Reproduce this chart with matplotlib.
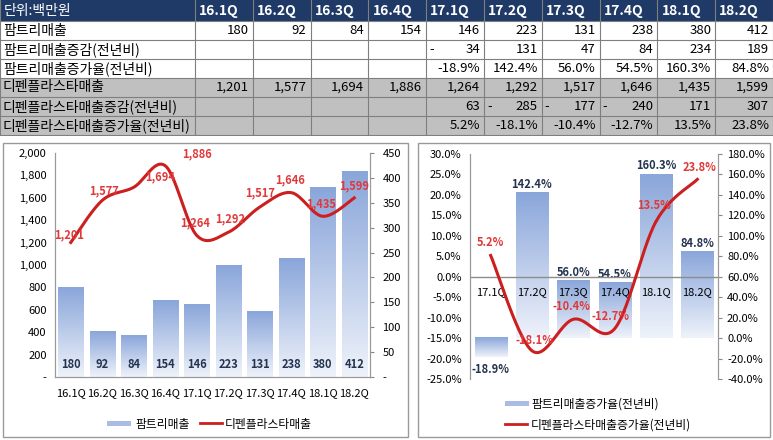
import numpy as np
import matplotlib
matplotlib.use("Agg")
import matplotlib.pyplot as plt
from matplotlib.patches import Rectangle
from matplotlib.lines import Line2D
from matplotlib.colors import LinearSegmentedColormap

plt.rcParams['font.family'] = ['Noto Sans CJK KR', 'DejaVu Sans']

quarters = ['16.1Q', '16.2Q', '16.3Q', '16.4Q', '17.1Q', '17.2Q', '17.3Q', '17.4Q', '18.1Q', '18.2Q']
palm_sales = [180, 92, 84, 154, 146, 223, 131, 238, 380, 412]
palm_diff = [None, None, None, None, -34, 131, 47, 84, 234, 189]
palm_rate = [None, None, None, None, -18.9, 142.4, 56.0, 54.5, 160.3, 84.8]
dp_sales = [1201, 1577, 1694, 1886, 1264, 1292, 1517, 1646, 1435, 1599]
dp_diff = [None, None, None, None, 63, -285, -177, -240, 171, 307]
dp_rate = [None, None, None, None, 5.2, -18.1, -10.4, -12.7, 13.5, 23.8]
row_labels = ['팜트리매출', '팜트리매출증감(전년비)', '팜트리매출증가율(전년비)',
              '디펜플라스타매출', '디펜플라스타매출증감(전년비)', '디펜플라스타매출증가율(전년비)']

W, H = 773, 440
fig = plt.figure(figsize=(W/100, H/100), dpi=100)

def fax(x0, y0, x1, y1):
    return fig.add_axes([x0/W, 1-y1/H, (x1-x0)/W, (y1-y0)/H])

# ---------- table ----------
tab = fax(0, 0, 773, 136)
tab.set_xlim(0, 773); tab.set_ylim(136, 0); tab.axis('off')
col0 = 195
cw = (773-col0)/10
rh = [21] + [19]*6
ys = np.cumsum([0]+rh)
navy = '#1f3a66'
for r in range(7):
    y0, y1 = ys[r], ys[r+1]
    bg = navy if r == 0 else ('white' if r <= 3 else '#c0c0c0')
    tab.add_patch(Rectangle((0, y0), 773, y1-y0, fc=bg, ec='none'))
    tab.plot([0, 773], [y1, y1], color='#7f7f7f', lw=0.8)
for c in range(11):
    x = 0 if c == 0 else col0 + (c-1)*cw
    tab.plot([x, x], [0, ys[-1]], color='#7f7f7f', lw=0.8)
tab.plot([772.5, 772.5], [0, ys[-1]], color='#7f7f7f', lw=0.8)
tab.text(4, ys[0]+10.5, '단위:백만원', color='white', fontsize=10, va='center')
for i, q in enumerate(quarters):
    tab.text(col0+i*cw+4, 10.5, q, color='white', fontsize=10, fontweight='bold', va='center')

def fmt_int(v):
    return f'{abs(v):,}'
rows = [palm_sales, palm_diff, palm_rate, dp_sales, dp_diff, dp_rate]
for r, (lab, vals) in enumerate(zip(row_labels, rows)):
    yc = (ys[r+1]+ys[r+2])/2
    tab.text(3, yc, lab, fontsize=10, va='center')
    for i, v in enumerate(vals):
        if v is None:
            continue
        xr = col0+(i+1)*cw-4
        if r in (2, 5):
            s = f'{v:.1f}%'
        else:
            s = fmt_int(v)
            if v < 0:
                tab.text(col0+i*cw+3, yc, '-', fontsize=9.5, va='center')
        tab.text(xr, yc, s, fontsize=9.5, va='center', ha='right')

# ---------- helpers ----------
cmap = LinearSegmentedColormap.from_list('g', ['#eef2fa', '#8aa6da'])
grad = np.linspace(0, 1, 100).reshape(-1, 1)

def gbar(ax, x, w, b, t):
    lo, hi = min(b, t), max(b, t)
    ax.imshow(grad, extent=(x-w/2, x+w/2, lo, hi), origin='lower', cmap=cmap,
              aspect='auto', zorder=1, interpolation='bilinear')

def smooth(xs, ys_, n=30):
    p = np.column_stack([xs, ys_]).astype(float)
    p = np.vstack([p[0], p, p[-1]])
    out = []
    for i in range(1, len(p)-2):
        p0, p1, p2, p3 = p[i-1], p[i], p[i+1], p[i+2]
        t = np.linspace(0, 1, n)[:, None]
        pt = 0.5*((2*p1) + (-p0+p2)*t + (2*p0-5*p1+4*p2-p3)*t**2 + (-p0+3*p1-3*p2+p3)*t**3)
        out.append(pt)
    o = np.vstack(out)
    return o[:, 0], o[:, 1]

def box(x0, y0, x1, y1):
    fig.add_artist(Rectangle((x0/W, 1-y1/H), (x1-x0)/W, (y1-y0)/H, transform=fig.transFigure,
                             fc='none', ec='#9a9a9a', lw=1))

red = '#cc1f1f'
lab_red = '#e0393a'
dark = '#243350'
fs = 8

# ---------- left chart ----------
box(3, 143, 408, 437)
axL = fax(55, 153, 370, 377)
axR = axL.twinx()
xs = np.arange(10)
for x, v in zip(xs, palm_sales):
    gbar(axR, x, 0.8, 0, v)
    axR.text(x, 25, str(v), ha='center', va='center', fontsize=fs, fontweight='bold', color=dark, zorder=3)
axR.set_ylim(0, 450); axR.set_xlim(-0.5, 9.5)
axL.set_ylim(0, 2000); axL.set_xlim(-0.5, 9.5)
sx, sy = smooth(xs, dp_sales)
axL.plot(sx, sy, color=red, lw=2.2, zorder=5)
axL.set_zorder(axR.get_zorder()+1); axL.patch.set_visible(False)
dlab = [(-0.05, 1270), (0.05, 1660), (0.85, 1790), (1.0, 1990), (-0.05, 1380), (0.05, 1410),
        (0.0, 1640), (-0.05, 1760), (-0.05, 1550), (0.0, 1710)]
for x, v, (dx, ly) in zip(xs, dp_sales, dlab):
    axL.text(x+dx, ly, f'{v:,}', ha='center', va='center', color=lab_red, fontsize=fs, fontweight='bold', zorder=6)
axL.set_yticks(range(0, 2001, 200))
axL.set_yticklabels(['-'] + [f'{v:,}' for v in range(200, 2001, 200)], fontsize=fs)
axR.set_yticks(range(0, 451, 50))
axR.set_yticklabels(['-'] + [str(v) for v in range(50, 451, 50)], fontsize=fs)
axL.set_xticks(xs); axL.set_xticklabels(quarters, fontsize=fs)
axL.tick_params(axis='x', length=0, pad=8)
axL.tick_params(axis='y', length=0, pad=6)
axR.tick_params(axis='y', length=3, color='#888888', direction='out', pad=6)
for a in (axL, axR):
    a.spines['top'].set_visible(False)
    for s in ('left', 'right', 'bottom'):
        a.spines[s].set_color('#999999')
fig.add_artist(Rectangle((107/W, 1-426/H), 24/W, 5/H, transform=fig.transFigure, fc='#a9bde4', ec='none'))
fig.text(135/W, 1-424/H, '팜트리매출', fontsize=8.5, va='center')
fig.add_artist(Line2D([200/W, 222/W], [1-423/H, 1-423/H], color=red, lw=2, transform=fig.transFigure))
fig.text(225/W, 1-424/H, '디펜플라스타매출', fontsize=8.5, va='center')

# ---------- right chart ----------
box(418, 143, 770, 437)
bL = fax(470, 154, 718, 379)
bR = bL.twinx()
q6 = quarters[4:]
x6 = np.arange(6)
pr = palm_rate[4:]
dr = dp_rate[4:]
for x, v in zip(x6, pr):
    gbar(bR, x, 0.78, 0, v)
    off = 8 if v >= 0 else -12
    bR.text(x, v+off, f'{v:.1f}%', ha='center', va='center', fontsize=fs, fontweight='bold', color=dark)
bR.set_ylim(-40, 180); bR.set_xlim(-0.5, 5.5)
bL.set_ylim(-25, 30); bL.set_xlim(-0.5, 5.5)
bL.axhline(0, color='#8c8c8c', lw=1, zorder=2)
for x, q in zip(x6, q6):
    bL.text(x, -3.7, q, ha='center', va='center', fontsize=fs, zorder=4)
sx, sy = smooth(x6, dr)
bL.plot(sx, sy, color=red, lw=2.2, zorder=5)
bL.set_zorder(bR.get_zorder()+1); bL.patch.set_visible(False)
rlab = [(0, 8.3), (0.05, -15.5), (-0.05, -7.3), (-0.1, -9.8), (-0.05, 17.5), (0.05, 26.8)]
for x, v, (dx, ly) in zip(x6, dr, rlab):
    bL.text(x+dx, ly, f'{v:.1f}%', ha='center', va='center', color=lab_red, fontsize=fs, fontweight='bold', zorder=6)
bL.set_yticks(np.arange(-25, 31, 5))
bL.set_yticklabels([f'{v:.1f}%' for v in np.arange(-25, 31, 5)], fontsize=fs)
bR.set_yticks(np.arange(-40, 181, 20))
bR.set_yticklabels([f'{v:.1f}%' for v in np.arange(-40, 181, 20)], fontsize=fs)
bL.set_xticks([])
bL.tick_params(axis='y', length=0, pad=6)
bR.tick_params(axis='y', length=3, color='#888888', direction='out')
for a in (bL, bR):
    for s in ('top', 'bottom'):
        a.spines[s].set_visible(False)
    for s in ('left', 'right'):
        a.spines[s].set_color('#999999')
fig.add_artist(Rectangle((505/W, 1-406/H), 24/W, 5/H, transform=fig.transFigure, fc='#a9bde4', ec='none'))
fig.text(531/W, 1-404/H, '팜트리매출증가율(전년비)', fontsize=8.5, va='center')
fig.add_artist(Line2D([505/W, 527/W], [1-424/H, 1-424/H], color=red, lw=2, transform=fig.transFigure))
fig.text(531/W, 1-425/H, '디펜플라스타매출증가율(전년비)', fontsize=8.5, va='center')

fig.savefig('out.png', dpi=100)
